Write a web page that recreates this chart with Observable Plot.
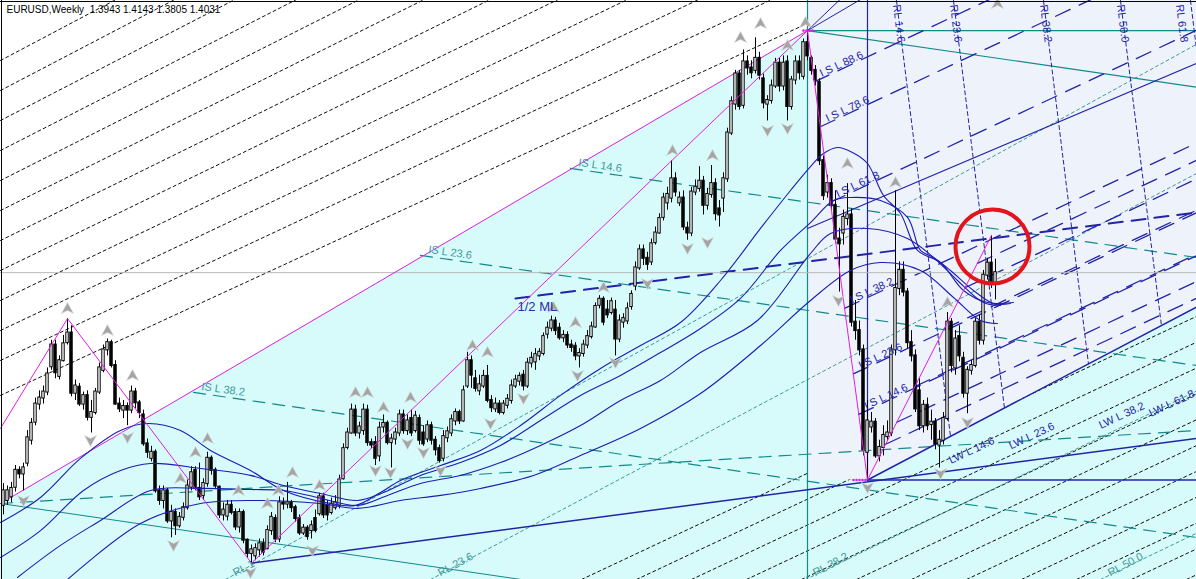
<!DOCTYPE html>
<html><head><meta charset="utf-8">
<script src="https://cdn.jsdelivr.net/npm/d3@7"></script>
<script src="https://cdn.jsdelivr.net/npm/@observablehq/plot@0.6"></script>
<style>body{margin:0;background:#fff}#chart{width:1196px;height:579px;overflow:hidden;position:relative}</style>
</head><body><div id="chart"></div>
<script>
// ---------- EURUSD weekly bars (index 0 = first visible week) ----------
const open=[1.210,1.214,1.217,1.225,1.239,1.236,1.245,1.264,1.279,1.294,
1.299,1.304,1.325,1.343,1.317,1.330,1.345,1.353,1.303,1.308,
1.294,1.301,1.283,1.287,1.304,1.322,1.339,1.345,1.326,1.294,
1.289,1.292,1.289,1.304,1.295,1.285,1.261,1.249,1.254,1.222,
1.214,1.222,1.197,1.204,1.193,1.200,1.208,1.225,1.239,1.224,
1.218,1.228,1.249,1.239,1.225,1.202,1.201,1.210,1.204,1.192,
1.204,1.181,1.170,1.168,1.173,1.178,1.174,1.189,1.199,1.182,
1.212,1.211,1.212,1.208,1.199,1.187,1.191,1.189,1.199,1.203,
1.217,1.210,1.204,1.208,1.210,1.232,1.258,1.270,1.289,1.270,
1.272,1.289,1.262,1.262,1.251,1.275,1.278,1.262,1.265,1.270,
1.285,1.272,1.282,1.272,1.282,1.270,1.265,1.276,1.264,1.257,
1.249,1.266,1.270,1.280,1.287,1.280,1.309,1.330,1.315,1.305,
1.309,1.317,1.297,1.290,1.294,1.287,1.293,1.297,1.309,1.313,
1.318,1.309,1.328,1.329,1.334,1.336,1.352,1.357,1.363,1.357,
1.349,1.351,1.343,1.342,1.334,1.336,1.343,1.350,1.358,1.376,
1.381,1.372,1.370,1.372,1.348,1.362,1.363,1.375,1.392,1.407,
1.422,1.415,1.412,1.428,1.436,1.449,1.461,1.465,1.481,1.461,
1.465,1.440,1.436,1.470,1.473,1.479,1.459,1.468,1.477,1.456,
1.465,1.481,1.519,1.543,1.568,1.542,1.578,1.573,1.571,1.581,
1.564,1.543,1.546,1.558,1.577,1.558,1.578,1.541,1.563,1.578,
1.566,1.594,1.581,1.571,1.561,1.496,1.470,1.477,1.459,1.431,
1.436,1.448,1.451,1.362,1.355,1.339,1.254,1.275,1.279,1.251,
1.258,1.267,1.270,1.339,1.390,1.405,1.387,1.345,1.334,1.305,
1.276,1.293,1.277,1.279,1.260,1.264,1.282,1.362,1.324,1.350,
1.332,1.303,1.322,1.326,1.362,1.347,1.401,1.411,1.3943];
const high=[1.228,1.226,1.229,1.243,1.242,1.245,1.272,1.282,1.299,1.305,
1.309,1.324,1.347,1.347,1.334,1.351,1.365,1.359,1.314,1.311,
1.304,1.305,1.297,1.307,1.328,1.343,1.348,1.347,1.330,1.299,
1.297,1.295,1.309,1.307,1.297,1.289,1.265,1.259,1.256,1.226,
1.226,1.224,1.210,1.207,1.204,1.212,1.231,1.242,1.242,1.245,
1.232,1.254,1.251,1.241,1.226,1.212,1.214,1.214,1.207,1.207,
1.206,1.182,1.177,1.178,1.182,1.182,1.193,1.204,1.202,1.217,
1.216,1.229,1.214,1.210,1.202,1.194,1.193,1.197,1.206,1.220,
1.220,1.214,1.216,1.218,1.235,1.261,1.274,1.294,1.293,1.279,
1.294,1.293,1.265,1.267,1.279,1.285,1.280,1.269,1.274,1.289,
1.289,1.285,1.289,1.288,1.285,1.276,1.280,1.279,1.267,1.260,
1.272,1.275,1.285,1.290,1.289,1.309,1.337,1.334,1.322,1.318,
1.322,1.326,1.301,1.299,1.297,1.297,1.302,1.314,1.318,1.320,
1.322,1.332,1.337,1.340,1.340,1.353,1.362,1.367,1.366,1.361,
1.355,1.354,1.347,1.345,1.340,1.347,1.355,1.362,1.378,1.384,
1.383,1.380,1.382,1.380,1.368,1.369,1.378,1.388,1.412,1.426,
1.426,1.420,1.431,1.441,1.452,1.469,1.474,1.496,1.486,1.470,
1.471,1.445,1.474,1.480,1.491,1.483,1.473,1.492,1.481,1.463,
1.486,1.523,1.549,1.571,1.571,1.588,1.583,1.579,1.598,1.586,
1.568,1.550,1.563,1.581,1.581,1.583,1.583,1.566,1.583,1.583,
1.597,1.604,1.583,1.575,1.564,1.500,1.484,1.481,1.471,1.440,
1.455,1.477,1.456,1.380,1.363,1.343,1.297,1.287,1.282,1.264,
1.276,1.280,1.343,1.471,1.412,1.412,1.390,1.355,1.339,1.315,
1.297,1.299,1.289,1.282,1.272,1.287,1.370,1.365,1.355,1.359,
1.337,1.325,1.330,1.365,1.368,1.405,1.415,1.434,1.4143];
const low=[1.202,1.210,1.212,1.221,1.232,1.222,1.242,1.260,1.276,1.289,
1.294,1.301,1.322,1.315,1.314,1.329,1.343,1.300,1.297,1.292,
1.289,1.280,1.270,1.285,1.302,1.320,1.334,1.324,1.293,1.287,
1.282,1.276,1.286,1.290,1.282,1.259,1.249,1.246,1.220,1.210,
1.207,1.195,1.183,1.185,1.191,1.197,1.206,1.222,1.222,1.214,
1.214,1.225,1.235,1.224,1.199,1.197,1.197,1.202,1.189,1.187,
1.178,1.166,1.162,1.164,1.167,1.168,1.173,1.185,1.179,1.179,
1.206,1.207,1.204,1.196,1.185,1.185,1.181,1.182,1.187,1.201,
1.199,1.197,1.202,1.206,1.207,1.231,1.256,1.269,1.267,1.265,
1.268,1.259,1.257,1.243,1.246,1.270,1.260,1.241,1.260,1.267,
1.269,1.268,1.267,1.270,1.260,1.259,1.262,1.260,1.251,1.245,
1.246,1.262,1.267,1.276,1.277,1.279,1.307,1.307,1.304,1.301,
1.307,1.295,1.287,1.287,1.285,1.285,1.290,1.294,1.307,1.309,
1.305,1.307,1.324,1.322,1.330,1.334,1.348,1.354,1.351,1.347,
1.345,1.340,1.337,1.330,1.324,1.333,1.340,1.348,1.357,1.373,
1.359,1.365,1.368,1.334,1.345,1.357,1.360,1.372,1.388,1.405,
1.409,1.405,1.409,1.426,1.435,1.446,1.455,1.461,1.466,1.458,
1.438,1.430,1.433,1.467,1.470,1.451,1.455,1.465,1.446,1.441,
1.453,1.478,1.517,1.538,1.538,1.539,1.567,1.564,1.568,1.563,
1.539,1.529,1.543,1.556,1.553,1.554,1.529,1.538,1.559,1.563,
1.563,1.579,1.567,1.558,1.492,1.463,1.465,1.455,1.428,1.387,
1.426,1.442,1.358,1.347,1.334,1.251,1.231,1.270,1.249,1.246,
1.251,1.264,1.267,1.334,1.384,1.383,1.340,1.329,1.287,1.272,
1.270,1.272,1.264,1.256,1.241,1.260,1.280,1.320,1.318,1.329,
1.299,1.286,1.318,1.324,1.343,1.343,1.397,1.390,1.3805];
const close=[1.222,1.222,1.224,1.239,1.236,1.241,1.266,1.278,1.294,1.299,
1.304,1.319,1.343,1.320,1.330,1.344,1.353,1.303,1.309,1.294,
1.301,1.283,1.287,1.304,1.324,1.339,1.345,1.326,1.294,1.290,
1.292,1.289,1.304,1.295,1.287,1.261,1.254,1.254,1.222,1.214,
1.222,1.197,1.204,1.193,1.200,1.208,1.226,1.237,1.224,1.217,
1.228,1.249,1.239,1.226,1.202,1.206,1.210,1.204,1.192,1.204,
1.181,1.170,1.173,1.174,1.178,1.171,1.189,1.200,1.182,1.212,
1.211,1.212,1.208,1.199,1.187,1.191,1.184,1.193,1.189,1.217,
1.202,1.202,1.211,1.212,1.231,1.257,1.270,1.289,1.270,1.275,
1.289,1.262,1.260,1.249,1.274,1.278,1.262,1.265,1.270,1.285,
1.272,1.280,1.270,1.284,1.264,1.261,1.276,1.264,1.256,1.247,
1.267,1.271,1.281,1.287,1.280,1.305,1.330,1.318,1.307,1.310,
1.317,1.297,1.291,1.294,1.287,1.294,1.298,1.309,1.314,1.317,
1.309,1.328,1.332,1.335,1.337,1.350,1.357,1.363,1.355,1.349,
1.351,1.343,1.341,1.334,1.336,1.343,1.350,1.358,1.375,1.381,
1.362,1.368,1.379,1.348,1.363,1.365,1.373,1.385,1.407,1.422,
1.415,1.410,1.427,1.436,1.448,1.465,1.468,1.481,1.470,1.465,
1.441,1.436,1.470,1.474,1.479,1.459,1.468,1.477,1.452,1.451,
1.481,1.519,1.545,1.568,1.541,1.578,1.573,1.569,1.581,1.567,
1.544,1.546,1.558,1.577,1.558,1.577,1.541,1.563,1.578,1.569,
1.594,1.583,1.571,1.563,1.496,1.467,1.477,1.459,1.431,1.427,
1.449,1.451,1.362,1.355,1.339,1.256,1.280,1.279,1.251,1.258,
1.268,1.270,1.339,1.390,1.405,1.387,1.345,1.334,1.290,1.276,
1.293,1.276,1.279,1.261,1.264,1.282,1.362,1.326,1.348,1.334,
1.303,1.322,1.326,1.362,1.347,1.401,1.411,1.394,1.4031];

// ---------- view (bar index / price) ----------
const barRange=[-0.75,298.25];
const priceRange=[1.1484,1.629];
const bidPrice=1.4031;
const headerText="EURUSD,Weekly  1.3943 1.4143 1.3805 1.4031";

// ---------- ZigZag pivots ----------
const pivotBar=[-0.75,16,62,201,216,247];
const pivotPrice=[1.2738,1.365,1.162,1.604,1.231,1.434];

// ---------- moving averages (bar, price) ----------
const ma1=[[-0.75,1.1957],[9.25,1.2165],[19.25,1.2489],[29.25,1.2721],[36,1.2779],[44.25,1.2721],[51.75,1.2555],[61.75,1.2389],[70,1.2223],[81.75,1.2115],[88,1.2099],[94.25,1.2206],[99.25,1.2306],[109.25,1.243],[119.25,1.2555],[129.25,1.2762],[139.25,1.3012],[149.25,1.3236],[159.25,1.3426],[169.25,1.3617],[179.25,1.3966],[189.25,1.4398],[196.75,1.4713],[201.75,1.4912],[205,1.502],[208.5,1.507],[212.25,1.5028],[216,1.4937],[220,1.4671],[224.25,1.4522],[228.5,1.4215],[234.25,1.4115],[240,1.3883],[246,1.3783],[252.5,1.3783]];
const ma2=[[-0.75,1.1667],[9.25,1.189],[20,1.2223],[29.25,1.2389],[36.75,1.2447],[49.25,1.2406],[61.75,1.2348],[70,1.2265],[79.25,1.2198],[88.5,1.214],[95,1.2206],[104.25,1.2348],[114.25,1.2455],[124.25,1.2597],[134.25,1.2804],[144.25,1.3012],[154.25,1.3178],[164.25,1.3368],[174.25,1.3568],[184.25,1.3817],[194.25,1.4215],[201.75,1.4447],[207.5,1.463],[211.75,1.4655],[219.25,1.463],[226,1.4489],[229.25,1.4215],[232.5,1.4157],[236.75,1.4049],[242.5,1.3883],[247.5,1.3775],[251.75,1.3775]];
const ma3=[[3.5,1.1501],[14.25,1.1767],[24.25,1.1974],[36.75,1.2223],[49.25,1.224],[61.75,1.2231],[70,1.2223],[78.5,1.2165],[88.5,1.2099],[96,1.2182],[104.25,1.2281],[114.25,1.2348],[124.25,1.2455],[134.25,1.2597],[144.25,1.2762],[154.25,1.297],[164.25,1.3136],[174.25,1.3368],[188.5,1.3634],[201.75,1.419],[206.75,1.4356],[216,1.4398],[226,1.4315],[232.5,1.4157],[238.5,1.3966],[245,1.3783],[249.25,1.3759]];
const ma4=[[16,1.1484],[34.25,1.1949],[49.25,1.2115],[64.25,1.214],[79.25,1.2115],[88.5,1.2074],[99.25,1.214],[109.25,1.2182],[119.25,1.224],[132.5,1.2348],[144.25,1.2514],[159.25,1.2738],[174.25,1.3028],[189.25,1.3426],[201.75,1.38],[211.75,1.4049],[219.25,1.4115],[229.25,1.4049],[237.5,1.3825],[244.25,1.3634],[248.5,1.3609]];

// ---------- Fractals (bar, price of arrow) ----------
const fractalUp=[[16,1.3734],[26,1.355],[32.25,1.3178],[44.25,1.2323],[48,1.2538],[51,1.2655],[58.75,1.2223],[66,1.2115],[68.75,1.2223],[72.25,1.2372],[79,1.2265],[88,1.3036],[91,1.3036],[95,1.2912],[101.75,1.2995],[117.25,1.3426],[121,1.337],[137.5,1.3742],[143,1.3617],[150,1.3908],[167.25,1.5045],[177.25,1.5004],[184.25,1.5983],[189.25,1.6099],[196,1.5917],[200.5,1.6107],[211,1.4937],[223,1.4779],[236,1.3783],[248.5,1.6265]];
const fractalDown=[[5,1.214],[21.75,1.2638],[31,1.2663],[42.5,1.1767],[61.75,1.1542],[77.25,1.1725],[93,1.2389],[96.75,1.2372],[101,1.2613],[105,1.2538],[109.25,1.2389],[121.75,1.2779],[130,1.2987],[143.5,1.3178],[153,1.3285],[161,1.3941],[171,1.4232],[176,1.4281],[191,1.5211],[196,1.5228],[208.75,1.38],[216,1.2248],[234.25,1.2364],[241,1.2787]];

// ---------- drawn objects ----------
const handleBar=-0.75, handlePrice=1.2115;
const peakBar=201, peakPrice=1.604;
const lowBar=216, lowPrice=1.231;
const lastSwingBar=247, lastSwingPrice=1.434;
const fanOrigin=[-1250.75,-0.612];
const fanLeftPrices=[1.5792,1.5543,1.5294,1.5045,1.4796,1.4547,1.4298,1.4049,1.3800,1.3551,1.3302,1.3012];
const lwStartBars=[144.5,158.25,172,185.75,199.5,213.25,227,240.75,254.5,268.25,282,295.75];
const forkSlope=0.00156;
const rlBottomBars=[55.5,106.75,200.5,274.25];
const rlBottomSlopes=[0.00183,0.00176,0.0016,0.0016];
const rlBottomNames=["RL 1","RL 23.6","RL 38.2","RL 50.0"];
const rlTop=[[223.25,1.629,236.75,1.2671],[237.5,1.629,250.25,1.2904],[260,1.629,271.25,1.3273],[279.25,1.629,289.5,1.3588],[296.75,1.629,305.75,1.3875]];
const rlTopNames=["RL 14.6","RL 23.6","RL 38.2","RL 50.0","RL 61.8"];
const fibRatios=[0.146,0.236,0.382,0.618,0.786,0.886];
const islNames=["I S L 14.6","I S L 23.6","I S L 38.2","I S L 61.8","I S L 78.6","I S L 88.6"];
const tealFib=[[141.75,1.4896,298.25,1.4157],[104.25,1.4174,298.25,1.326],[47.5,1.3037,298.25,1.1833]];
const tealFibNames=["IS L 14.6","IS L 23.6","IS L 38.2"];
const halfML=[128,1.3817,298.25,1.453];
const medianSolid=[201,1.4398,298.25,1.5767];
const baseLine=[62,1.162,298.25,1.2655];
const tealSolid=[-0.75,1.2115,298.25,1.0665];
const tealLongDash=[-0.75,1.2115,298.25,1.2721];
const peakTealDiag=[201,1.604,298.25,1.557];
const lwLabels=[["LW L 14.6",236.5,1.2470],["LW L 23.6",251.5,1.2590],["LW L 38.2",274,1.2760],["LW L 61.8",286.5,1.2860]];
const circleBar=247.25, circlePrice=1.4248;

// ---------- helpers ----------
const [X0,X1]=barRange,[Y0,Y1]=priceRange;
const seg=(a,k)=>[{i:a[0],p:a[1],k},{i:a[2],p:a[3],k}];
const ray=(i0,p0,s,k)=>[{i:i0,p:p0,k},{i:X1,p:p0+s*(X1-i0),k}];
const bars=open.map((o,i)=>({i,o,h:high[i],l:low[i],c:close[i]}));
const upBars=bars.filter(d=>d.c>=d.o), dnBars=bars.filter(d=>d.c<d.o);

const fanLines=fanLeftPrices.flatMap((p0,k)=>{const s=(p0-fanOrigin[1])/(X0-fanOrigin[0]);return [{i:X0,p:p0,k},{i:X1,p:p0+s*(X1-X0),k}];});
const lwLines=lwStartBars.flatMap((b,k)=>ray(b,Y0,forkSlope,k));
const rlBottomLines=rlBottomBars.flatMap((b,k)=>ray(b,Y0,rlBottomSlopes[k],k));
const rlTopLines=rlTop.flatMap((a,k)=>seg(a,k));
const islStarts=fibRatios.map(r=>[lowBar+(peakBar-lowBar)*r,lowPrice+(peakPrice-lowPrice)*r]);
const islStarts2=fibRatios.map(r=>[lowBar+(lastSwingBar-lowBar)*r,lowPrice+(lastSwingPrice-lowPrice)*r]);
const islLines=[...islStarts,...islStarts2].flatMap((s,k)=>ray(s[0],s[1],forkSlope,k));
const tealFibLines=tealFib.flatMap((a,k)=>seg(a,k));
const zig=pivotBar.map((b,k)=>({i:b,p:pivotPrice[k]}));
const maLines=[ma1,ma2,ma3,ma4].flatMap((m,k)=>m.map(([i,p])=>({i,p,k})));
const pt=a=>a.map(([i,p])=>({i,p}));

const cyanArea=[{i:X0,lo:Y0,hi:handlePrice},{i:peakBar,lo:Y0,hi:peakPrice},{i:peakBar,lo:Y0,hi:Y1},{i:X1,lo:Y0,hi:Y1}];
const lavArea=[{i:peakBar,lo:lowPrice,hi:Y1},{i:lowBar,lo:lowPrice,hi:Y1},{i:X1,lo:lowPrice+(X1-lowBar)*0.001744,hi:Y1}];

const upArrow={draw(c){c.moveTo(0,-6);c.lineTo(6,5);c.lineTo(0,2);c.lineTo(-6,5);c.closePath();}};
const dnArrow={draw(c){c.moveTo(0,6);c.lineTo(6,-5);c.lineTo(0,-2);c.lineTo(-6,-5);c.closePath();}};

const NAVY="#2323a8", TEAL="#138a8a", TEAL2="#3d9a9a", MAG="#e21ee2", MACOL="#1c1cb4";
const F="Liberation Sans, Arial, sans-serif";
const rlTopMain=rlTop.slice(0,4), rlTopLast=rlTop.slice(4);

const chart=Plot.plot({
  width:1196,height:579,margin:0,
  x:{domain:barRange,axis:null},
  y:{domain:priceRange,axis:null},
  style:{background:"#fff",fontFamily:F,overflow:"hidden"},
  marks:[
    Plot.line(fanLines,{x:"i",y:"p",z:"k",stroke:"#111",strokeWidth:1,strokeDasharray:"3,3",clip:true}),
    Plot.areaY(cyanArea,{x:"i",y1:"lo",y2:"hi",fill:"#d7fbfb",curve:"linear"}),
    Plot.line(lwLines,{x:"i",y:"p",z:"k",stroke:"#111",strokeWidth:1,strokeDasharray:"3,3",clip:true}),
    Plot.areaY(lavArea,{x:"i",y1:"lo",y2:"hi",fill:"#eef3fb",curve:"linear"}),
    Plot.line(rlBottomLines,{x:"i",y:"p",z:"k",stroke:TEAL2,strokeWidth:1,strokeDasharray:"3,3",clip:true}),
    Plot.line(seg(tealSolid,0),{x:"i",y:"p",stroke:TEAL,strokeWidth:1,clip:true}),
    Plot.line(seg(tealLongDash,0),{x:"i",y:"p",stroke:TEAL,strokeWidth:1.2,strokeDasharray:"12,8",clip:true}),
    Plot.line(tealFibLines,{x:"i",y:"p",z:"k",stroke:TEAL,strokeWidth:1.2,strokeDasharray:"12,8",clip:true}),
    Plot.line(seg(peakTealDiag,0),{x:"i",y:"p",stroke:TEAL,strokeWidth:1.2,clip:true}),
    Plot.ruleY([peakPrice],{x1:peakBar,x2:X1,stroke:TEAL,strokeWidth:1.2}),
    Plot.ruleX([peakBar],{stroke:TEAL,strokeWidth:1.2}),
    Plot.line(rlTopLines,{x:"i",y:"p",z:"k",stroke:NAVY,strokeWidth:1,strokeDasharray:"4,3",clip:true}),
    Plot.line(islLines,{x:"i",y:"p",z:"k",stroke:NAVY,strokeWidth:1.3,strokeDasharray:"16,10",clip:true}),
    Plot.line(seg(medianSolid,0),{x:"i",y:"p",stroke:NAVY,strokeWidth:1.2,clip:true}),
    Plot.line(ray(lowBar,lowPrice,0.001744,0),{x:"i",y:"p",stroke:NAVY,strokeWidth:1.5,clip:true}),
    Plot.line(seg(baseLine,0),{x:"i",y:"p",stroke:NAVY,strokeWidth:1.5,clip:true}),
    Plot.ruleY([lowPrice],{x1:lowBar,x2:X1,stroke:NAVY,strokeWidth:1.5}),
    Plot.ruleX([lowBar],{y1:lowPrice,y2:Y1,stroke:NAVY,strokeWidth:1.2}),
    Plot.line(seg(halfML,0),{x:"i",y:"p",stroke:NAVY,strokeWidth:2,strokeDasharray:"14,9",clip:true}),
    Plot.line([{i:peakBar,p:peakPrice},{i:216,p:1.6332}],{x:"i",y:"p",stroke:NAVY,strokeWidth:1,clip:true}),
    Plot.line([{i:peakBar,p:peakPrice},{i:210,p:1.6326}],{x:"i",y:"p",stroke:NAVY,strokeWidth:1,clip:true}),
    Plot.ruleY([bidPrice],{stroke:"#b8b8b8",strokeWidth:1}),
    Plot.line([{i:handleBar,p:handlePrice},{i:peakBar,p:peakPrice}],{x:"i",y:"p",stroke:MAG,strokeWidth:1,clip:true}),
    Plot.ruleX(bars,{x:"i",y1:"l",y2:"h",stroke:"#000",strokeWidth:1}),
    Plot.rect(upBars,{x1:d=>d.i-0.3,x2:d=>d.i+0.3,y1:"o",y2:"c",fill:"#fff",stroke:"#000",strokeWidth:1,insetTop:-0.5,insetBottom:-0.5}),
    Plot.rect(dnBars,{x1:d=>d.i-0.3,x2:d=>d.i+0.3,y1:"o",y2:"c",fill:"#000",stroke:"#000",strokeWidth:1,insetTop:-0.5,insetBottom:-0.5}),
    Plot.line(maLines,{x:"i",y:"p",z:"k",stroke:MACOL,strokeWidth:1.1,curve:"catmull-rom",clip:true}),
    Plot.line(zig,{x:"i",y:"p",stroke:MAG,strokeWidth:1,clip:true}),
    Plot.dot([200,200.75,201.5,202.25].map(i=>({i,p:peakPrice})),{x:"i",y:"p",r:1.3,fill:MAG}),
    Plot.dot([212.5,213.25,214,214.75,215.5].map(i=>({i,p:lowPrice})),{x:"i",y:"p",r:1.3,fill:MAG}),
    Plot.dot(pt(fractalUp),{x:"i",y:"p",symbol:upArrow,fill:"#a4a4a4",stroke:"#d8d8d8",strokeWidth:0.7}),
    Plot.dot(pt(fractalDown),{x:"i",y:"p",symbol:dnArrow,fill:"#a4a4a4",stroke:"#d8d8d8",strokeWidth:0.7}),
    Plot.text(islStarts,{x:d=>d[0],y:d=>d[1],text:(d,k)=>islNames[k],rotate:-25,textAnchor:"start",dx:6,dy:-8,fill:NAVY,fontSize:11,fontFamily:F}),
    Plot.text(lwLabels,{x:d=>d[1],y:d=>d[2],text:d=>d[0],rotate:-25,textAnchor:"start",fill:NAVY,fontSize:11,fontFamily:F}),
    Plot.text(rlTopMain,{x:d=>d[0],y:d=>d[1],text:(d,k)=>rlTopNames[k],rotate:83,textAnchor:"start",dy:4,fill:NAVY,fontSize:11,fontFamily:F}),
    Plot.text(rlTopLast,{x:d=>d[0],y:d=>d[1],text:()=>rlTopNames[4],rotate:83,textAnchor:"start",dx:-11,dy:4,fill:NAVY,fontSize:11,fontFamily:F}),
    Plot.text(tealFib,{x:d=>d[0],y:d=>d[1],text:(d,k)=>tealFibNames[k],rotate:8,textAnchor:"start",dx:8,dy:-6,fill:TEAL2,fontSize:11,fontFamily:F}),
    Plot.text(rlBottomBars,{x:d=>d,y:Y0,text:(d,k)=>rlBottomNames[k],rotate:-28,textAnchor:"start",dx:8,dy:-6,fill:TEAL2,fontSize:11,fontFamily:F}),
    Plot.text([halfML],{x:d=>d[0],y:d=>d[1],text:()=>"1/2 ML",textAnchor:"start",dx:2,dy:8,fill:"#2a2ab8",fontSize:13,fontFamily:F}),
    Plot.dot([{i:circleBar,p:circlePrice}],{x:"i",y:"p",r:37,stroke:"#e3151c",strokeWidth:4,fill:"none"}),
    Plot.text([headerText],{frameAnchor:"top-left",dx:6,dy:5,textAnchor:"start",lineAnchor:"top",fill:"#000",fontSize:10,fontFamily:F}),
    Plot.ruleY([Y1],{stroke:"#000",strokeWidth:1,dy:1}),
    Plot.ruleX([X0],{stroke:"#000",strokeWidth:1,dx:1})
  ]
});
document.getElementById("chart").appendChild(chart);
</script></body></html>
